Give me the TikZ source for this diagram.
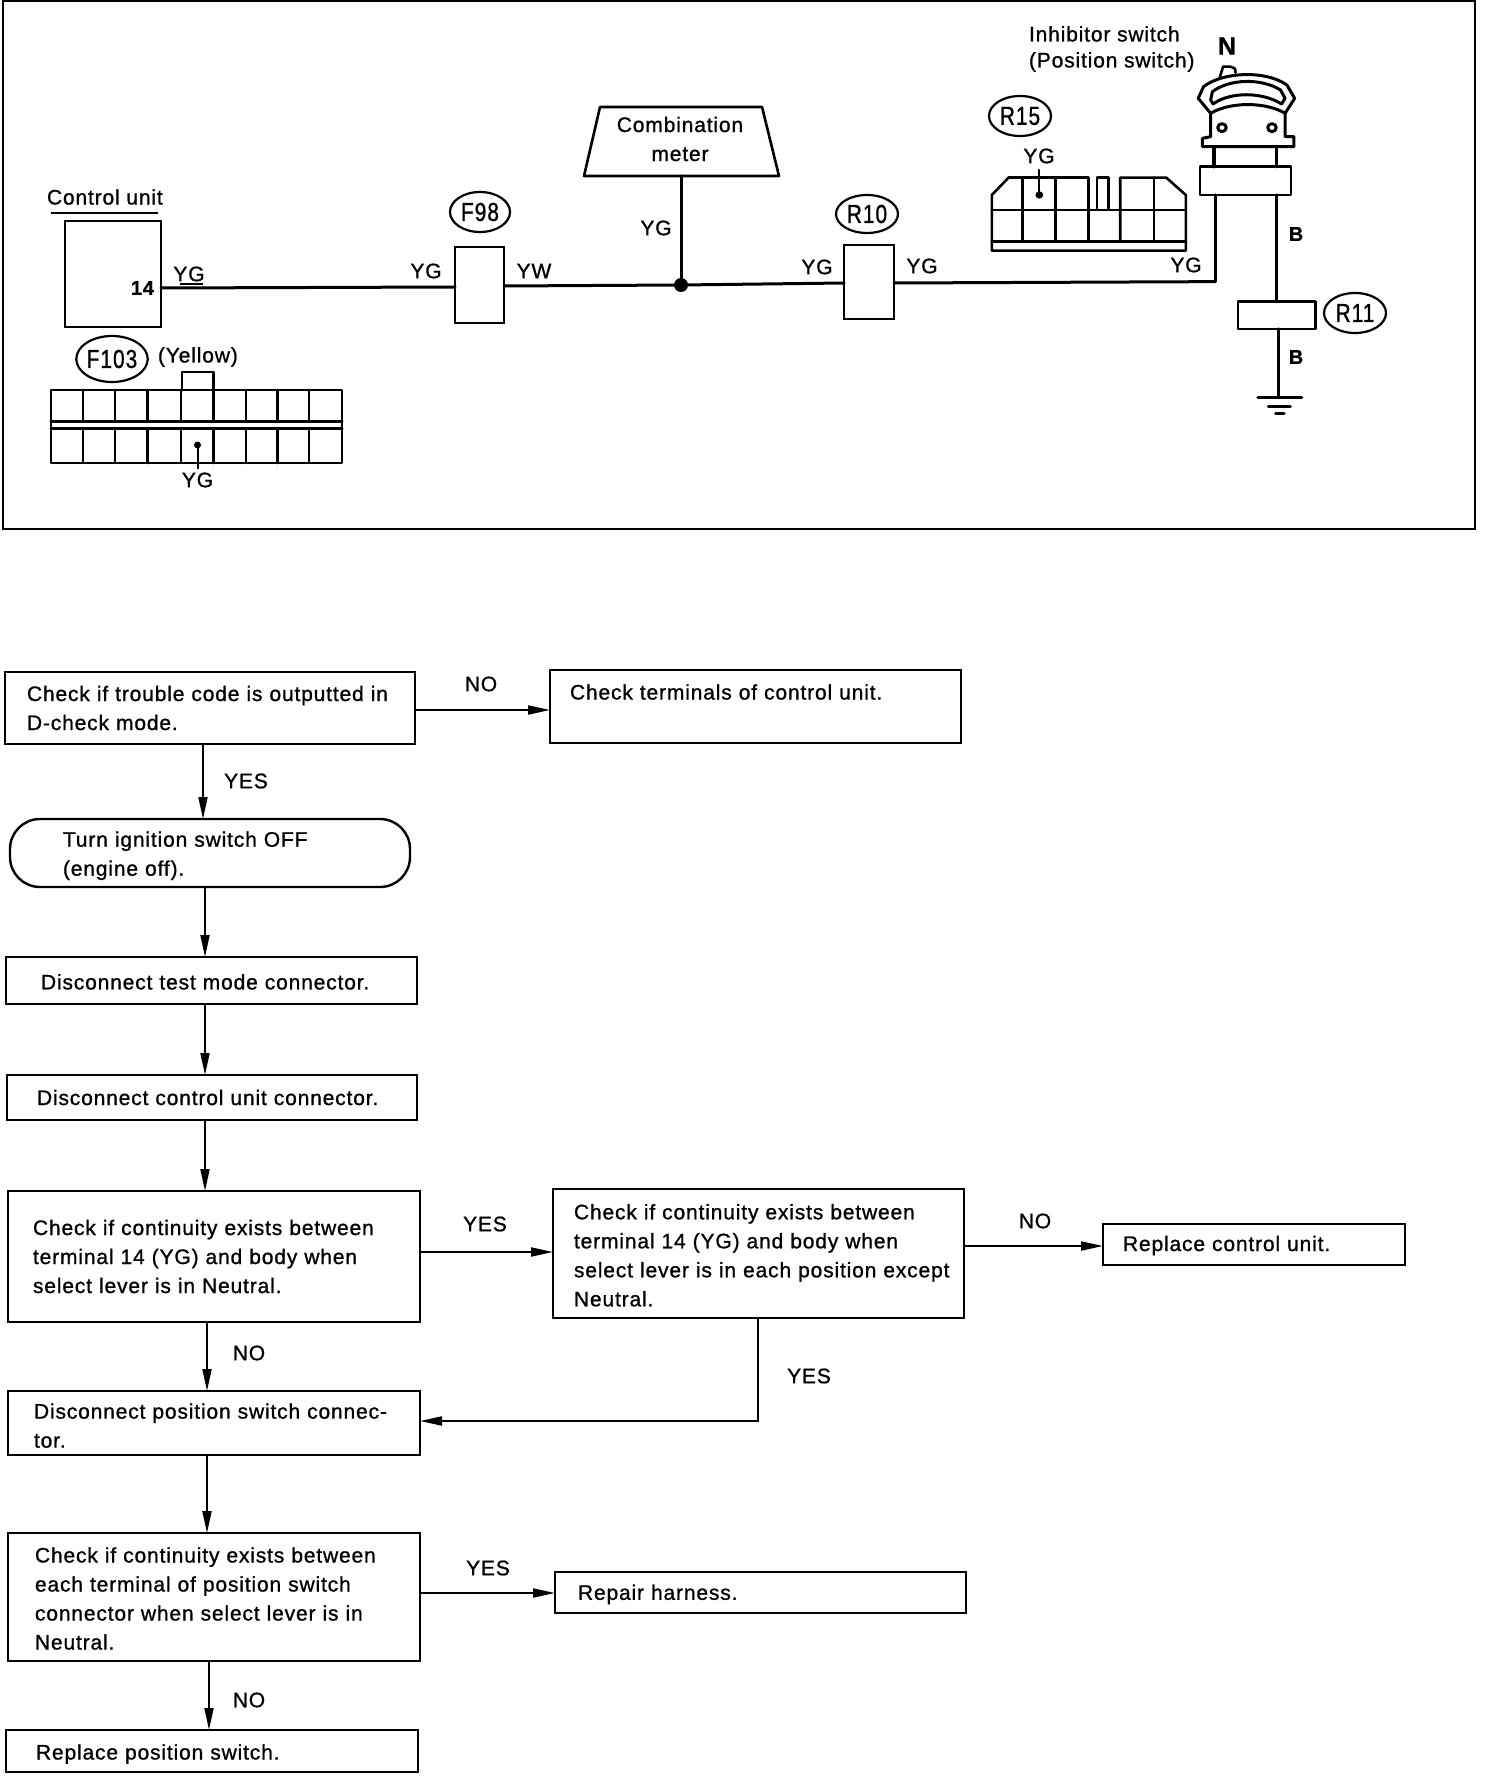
\documentclass[tikz,border=0pt]{standalone}
\usepackage{fontspec}
\setmainfont[LetterSpace=4,FakeBold=1]{Liberation Sans}
\usetikzlibrary{arrows.meta,shapes.geometric,calc}
\tikzset{
 x=1pt,y=-1pt,
 every node/.style={font=\fontsize{21}{29}\selectfont,inner sep=0pt,outer sep=0pt},
 ln/.style={line width=2.6pt,line cap=round,line join=round},
 wire/.style={line width=3pt,line cap=round},
 arr/.style={line width=2pt,-{Stealth[inset=0pt,length=22pt,width=9pt]}},
 fbox/.style={draw,line width=2.4pt,anchor=north west,align=left},
 tag/.style={draw,ellipse,line width=2.2pt,font=\fontsize{26}{26}\selectfont\addfontfeature{FakeStretch=0.8},inner sep=0pt},
 lab/.style={font=\fontsize{21}{21}\selectfont},
 blab/.style={font=\fontsize{20}{20}\selectfont\bfseries},
 dot/.style={circle,fill=black,inner sep=0pt,minimum size=#1},
}
\begin{document}
\begin{tikzpicture}
\useasboundingbox (0,0) rectangle (1504,1776);
% frame
\draw[line width=2.4pt] (3,1) -- (1475,1) -- (1475,529) -- (3,529) -- cycle;
% control unit
\node[fbox,minimum width=96pt,minimum height=106pt] (cu) at (65,221) {};
\node[anchor=west] (cutxt) at (47,197) {Control unit};
\draw[line width=1.6pt] (51,213) -- (158,213);
\node[blab,anchor=east] (t14) at (154,288) {14};
\node[lab] (yg1) at (189,274) {YG};
\draw[line width=1.2pt] (180,284) -- (203,284);
% F98
\node[fbox,minimum width=49pt,minimum height=76pt] (f98) at (455,247) {};
\node[tag,minimum width=60pt,minimum height=40pt] (f98t) at (480,212) {F98};
\node[lab] (yg2) at (426,271) {YG};
\node[lab] (yw) at (534,271) {YW};
\coordinate (cuw) at (161,288);
\draw[wire] (cuw) -- (455,287);
% Combination meter
\draw[line width=2.6pt,line join=round] (600,107) -- (762,107) -- (779,176) -- (584,176) -- cycle;
\coordinate (cmb) at (681,176);
\node[align=center] (cmt) at (680,139) {Combination\\meter\hspace{8pt}};
\node[lab] (yg3) at (656,228) {YG};
\node[dot=14pt] (j) at (681,285) {};
\draw[wire] (cmb) -- (j);
\draw[wire] (504,286) -- (j);
% R10
\node[fbox,minimum width=50pt,minimum height=74pt] (r10) at (844,245) {};
\node[tag,minimum width=62pt,minimum height=38pt] (r10t) at (867,214) {R10};
\node[lab] (yg4) at (817,267) {YG};
\node[lab] (yg5) at (922,266) {YG};
\draw[wire] (j) -- (844,283);
% R15 connector, in scale of the switch drawing
\begin{scope}[shift={(950,0)},x=0.3546pt,y=-0.3333pt]
 \draw[ln] (165,533) -- (118,585) -- (118,752) -- (665,752) -- (665,585) -- (610,533) -- (480,533) -- (480,725);
 \draw[ln] (165,533) -- (390,533) -- (390,725);
 \draw[ln] (415,625) -- (415,533) -- (447,533) -- (447,625);
 \draw[ln] (118,630) -- (665,630) (118,725) -- (665,725);
 \foreach \xv in {205,298,575} \draw[ln] (\xv,533) -- (\xv,725);
 \fill (252,585) circle (11);
 \draw[ln,line width=2pt] (252,585) -- (252,510);
 % switch
 \draw[ln] (760,235) -- (770,200) -- (790,200) .. controls (805,205) .. (805,218);
 \draw[ln,line width=3pt] (735,340) -- (700,295) -- (715,260) .. controls (770,215) and (890,210) .. (950,255) -- (972,295) -- (945,340) .. controls (890,305) and (790,305) .. (735,340) -- cycle;
 \draw[ln,line width=3pt] (735,300) -- (740,275) .. controls (790,235) and (880,235) .. (932,270) -- (945,295) -- (935,312) .. controls (880,275) and (790,275) .. (742,312) -- cycle;
 \draw[ln,line width=3pt] (735,340) -- (735,410) -- (712,415) -- (712,440) -- (970,440) -- (970,410) -- (945,410) -- (945,340);
 \draw[ln,line width=3pt] (767,383) circle (12) (908,383) circle (12);
 \draw[ln,line width=3.4pt] (745,440) -- (745,500) (920,440) -- (920,500);
 \draw[ln] (705,500) rectangle (962,585);
 \draw[ln] (812,905) rectangle (1030,987);
 \draw[wire] (921,585) -- (921,905);
 \draw[wire] (925,987) -- (925,1192);
 \draw[wire] (868,1192) -- (992,1192);
 \draw[wire] (898,1220) -- (960,1220);
 \draw[wire] (918,1240) -- (942,1240);
 \draw[wire] (748,585) -- (748,845) coordinate (swb);
\end{scope}
\coordinate (r10e) at (894,283);
\draw[wire] (r10e) -- (swb);
\node[tag,minimum width=62pt,minimum height=40pt] (r15t) at (1020,116) {R15};
\node[tag,minimum width=62pt,minimum height=40pt] (r11t) at (1355,313) {R11};
\node[lab] (yg6) at (1039,156) {YG};
\node[lab] (yg7) at (1186,265) {YG};
\node[blab] (b1) at (1296,234) {B};
\node[blab] (b2) at (1296,357) {B};
\node[anchor=west,align=left,font=\fontsize{21}{26}\selectfont] (inh) at (1029,49) {Inhibitor switch\\(Position switch)};
\node[font=\fontsize{25}{25}\selectfont\bfseries] (nn) at (1227,46) {N};
% F103
\node[tag,minimum width=68pt,minimum height=46pt] (f103) at (112,359) {F103};
\node[anchor=west] (yel) at (158,357) {(Yellow)};
\draw[ln] (51,390) -- (342,390) -- (342,463) -- (51,463) -- cycle;
\draw[ln,line width=3pt] (51,421) -- (342,421) (51,428) -- (342,428);
\foreach \xv in {83,115,147.5,181,213.5,246,277.5,309} \draw[ln] (\xv,390) -- (\xv,421) (\xv,428) -- (\xv,463);
\draw[ln] (182,390) -- (182,372) -- (213.5,372) -- (213.5,390);
\fill (197.5,445) circle (3.5);
\draw[line width=2pt] (197.5,445) -- (197.5,469);
\node[lab] (yg8) at (197.5,480) {YG};
% flowchart
\node[fbox,minimum width=410pt,minimum height=72pt,inner xsep=22pt,text width=366pt] (b1x) at (5,672) {\mbox{Check if trouble code is outputted in}\\D-check mode.};
\node[fbox,minimum width=411pt,minimum height=73pt,inner xsep=20pt,text width=371pt,text height=29.5pt,text depth=43.5pt] (bno) at (550,670) {Check terminals of control unit.};
\node[fbox,minimum width=400pt,minimum height=68pt,inner xsep=53pt,text width=294pt,rounded corners=30pt,text height=27.7pt,text depth=40.3pt] (term) at (10,819) {Turn ignition switch OFF\\(engine off).};
\node[fbox,minimum width=411pt,minimum height=47pt,inner xsep=35pt,text width=341pt,text height=32.4pt,text depth=14.6pt] (tm) at (6,957) {Disconnect test mode connector.};
\node[fbox,minimum width=410pt,minimum height=45pt,inner xsep=30pt,text width=350pt] (cuc) at (7,1075) {Disconnect control unit connector.};
\node[fbox,minimum width=412pt,minimum height=131pt,inner xsep=25pt,text width=362pt] (c1) at (8,1191) {Check if continuity exists between\\terminal 14 (YG) and body when\\select lever is in Neutral.};
\node[fbox,minimum width=411pt,minimum height=129pt,inner xsep=21pt,text width=369pt,text height=30.3pt,text depth=98.7pt] (c2) at (553,1189) {Check if continuity exists between\\terminal 14 (YG) and body when\\\mbox{select lever is in each position except}\\Neutral.};
\node[fbox,minimum width=302pt,minimum height=41pt,inner xsep=20pt,text width=262pt,text height=27pt,text depth=14pt] (rc) at (1103,1224) {Replace control unit.};
\node[fbox,minimum width=412pt,minimum height=64pt,inner xsep=26pt,text width=360pt,text height=27.6pt,text depth=36.4pt] (dp) at (8,1391) {\mbox{Disconnect position switch connec-}\\tor.};
\node[fbox,minimum width=412pt,minimum height=128pt,inner xsep=27pt,text width=358pt,text height=29.5pt,text depth=98.5pt] (c3) at (8,1533) {Check if continuity exists between\\each terminal of position switch\\connector when select lever is in\\Neutral.};
\node[fbox,minimum width=411pt,minimum height=41pt,inner xsep=23pt,text width=365pt,text height=27.8pt,text depth=13.2pt] (rh) at (555,1572) {Repair harness.};
\node[fbox,minimum width=412pt,minimum height=42pt,inner xsep=30pt,text width=352pt,text height=29.5pt,text depth=12.5pt] (rp) at (6,1730) {Replace position switch.};
% labels
\node (no1) at (481,684) {NO};
\node (yes1) at (246,781) {YES};
\node (yes2) at (485,1224) {YES};
\node (no2) at (1035,1221) {NO};
\node (yes3) at (809,1376) {YES};
\node (no3) at (249,1353) {NO};
\node (yes4) at (488,1568) {YES};
\node (no4) at (249,1700) {NO};
% connectors
\draw[arr] (b1x.east |- 0,710) -- (bno.west |- 0,710);
\draw[arr] (b1x.south -| 203,0) -- (term.north -| 203,0);
\draw[arr] (term.south -| 205,0) -- (tm.north -| 205,0);
\draw[arr] (tm.south -| 205,0) -- (cuc.north -| 205,0);
\draw[arr] (cuc.south -| 205,0) -- (c1.north -| 205,0);
\draw[arr] (c1.east |- 0,1252) -- (c2.west |- 0,1252);
\draw[arr] (c2.east |- 0,1246) -- (rc.west |- 0,1246);
\draw[arr] (c1.south -| 207,0) -- (dp.north -| 207,0);
\draw[arr] (c2.south -| 758,0) -- (758,1421) -- (dp.east |- 0,1421);
\draw[arr] (dp.south -| 207,0) -- (c3.north -| 207,0);
\draw[arr] (c3.east |- 0,1593) -- (rh.west |- 0,1593);
\draw[arr] (c3.south -| 209,0) -- (rp.north -| 209,0);
\end{tikzpicture}
\end{document}
